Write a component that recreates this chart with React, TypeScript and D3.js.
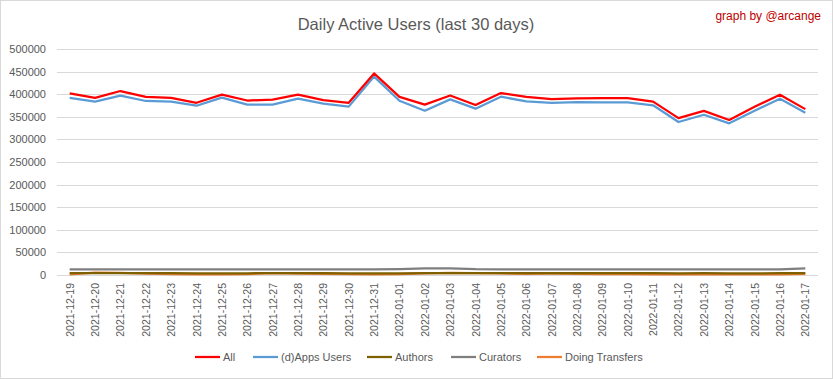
import React from "react";
import * as d3 from "d3";

const dates = [
  "2021-12-19","2021-12-20","2021-12-21","2021-12-22","2021-12-23","2021-12-24","2021-12-25",
  "2021-12-26","2021-12-27","2021-12-28","2021-12-29","2021-12-30","2021-12-31","2022-01-01",
  "2022-01-02","2022-01-03","2022-01-04","2022-01-05","2022-01-06","2022-01-07","2022-01-08",
  "2022-01-09","2022-01-10","2022-01-11","2022-01-12","2022-01-13","2022-01-14","2022-01-15",
  "2022-01-16","2022-01-17",
];

const allUsers = [402000,392000,407000,394000,392000,381000,399000,386000,388000,399000,387000,381000,446000,394000,377000,397000,376000,402500,394000,389000,391000,391500,391500,383500,347000,363000,343000,372000,399000,367000];
const appsUsers = [392000,383500,397000,385000,383500,374500,392500,377000,377000,390000,379000,372500,439000,385500,363500,388500,368000,394500,384000,381000,382500,382000,382000,375500,338500,354500,335500,363500,390000,359000];
const authors = [4000,4200,4300,4100,3900,3700,3800,3800,4100,4000,3900,3800,3700,3800,4000,4300,4200,4100,4000,4000,3900,3900,3900,3900,3800,3900,3800,3800,3900,4000];
const curators = [12500,12600,12700,12600,12500,12400,12400,12400,12600,12600,12500,12400,12400,13000,14500,14500,12800,12600,12600,12500,12500,12500,12500,12500,12400,12400,12400,12400,12500,14500];
const transfers = [1500,5000,4500,3000,2000,1500,1500,2000,4000,3000,2500,2000,1500,2000,3500,4500,4000,3500,2500,3000,2500,2000,2000,1500,1500,1500,1500,1500,1500,2500];

const yTicks = [0,50000,100000,150000,200000,250000,300000,350000,400000,450000,500000];

const series = [
  { name: "All", values: allUsers, color: "#ff0000" },
  { name: "(d)Apps Users", values: appsUsers, color: "#5b9bd5" },
  { name: "Authors", values: authors, color: "#7f6000" },
  { name: "Curators", values: curators, color: "#7f7f7f" },
  { name: "Doing Transfers", values: transfers, color: "#ed7d31" },
];

const W = 833, H = 379;
const M = { left: 57, right: 818, top: 49, bottom: 275 };
const FONT = "'Liberation Sans', Arial, sans-serif";
const legendX = [195, 253, 367, 451, 537];

export default function App() {
  const x = d3.scaleBand<string>().domain(dates).range([M.left, M.right]);
  const cx = (d: string) => (x(d) as number) + x.bandwidth() / 2;
  const y = d3.scaleLinear().domain([0, 500000]).range([M.bottom, M.top]);
  const line = (vals: number[]) =>
    d3.line<number>().x((_, i) => cx(dates[i])).y((v) => y(v))(vals) as string;
  const drawOrder = [4, 2, 3, 1, 0];

  return (
    <svg width={W} height={H} style={{ position: "absolute", left: 0, top: 0, background: "#fff" }} fontFamily={FONT}>
      <rect x={0.5} y={0.5} width={W - 1} height={H - 1} fill="#fff" stroke="#d9d9d9" />
      <text x={416} y={30} textAnchor="middle" fontSize={16.5} fill="#595959">Daily Active Users (last 30 days)</text>
      <text x={821} y={20} textAnchor="end" fontSize={12} fill="#c00000">graph by @arcange</text>
      {yTicks.map((t) => (
        <g key={t}>
          <line x1={M.left} x2={M.right} y1={Math.round(y(t)) + 0.5} y2={Math.round(y(t)) + 0.5} stroke="#d9d9d9" strokeWidth={1} />
          <text x={46} y={y(t) + 4} textAnchor="end" fontSize={11} fill="#595959">{d3.format("d")(t)}</text>
        </g>
      ))}
      {dates.map((d) => (
        <text key={d} transform={`translate(${cx(d) + 4},${M.bottom + 8}) rotate(-90)`} textAnchor="end" fontSize={10.5} fill="#595959">{d}</text>
      ))}
      {drawOrder.map((k) => (
        <path key={series[k].name} d={line(series[k].values)} fill="none" stroke={series[k].color} strokeWidth={2.25} strokeLinejoin="round" />
      ))}
      {series.map((s, i) => (
        <g key={s.name}>
          <line x1={legendX[i]} x2={legendX[i] + 25} y1={357} y2={357} stroke={s.color} strokeWidth={2.25} />
          <text x={legendX[i] + 28} y={361} fontSize={11} fill="#595959">{s.name}</text>
        </g>
      ))}
    </svg>
  );
}
